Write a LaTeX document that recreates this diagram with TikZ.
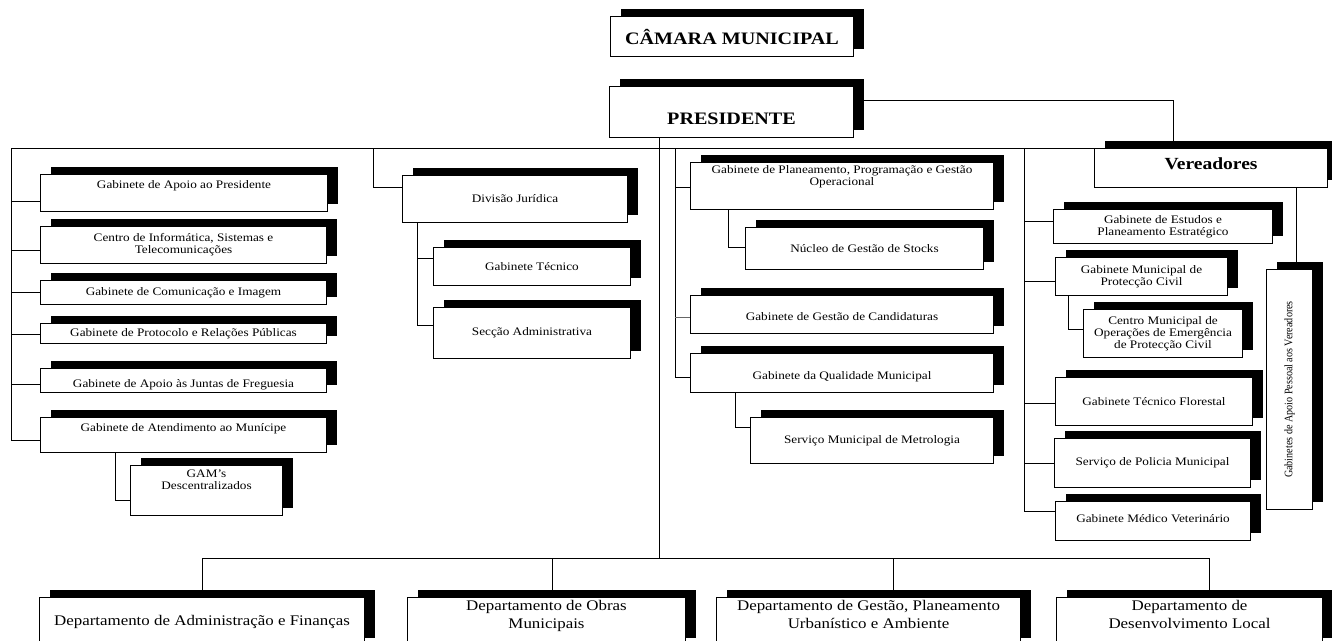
\documentclass[tikz,border=0pt]{standalone}
\usepackage{fontspec}
\usepackage{graphicx}
\setmainfont{Liberation Serif}[FakeStretch=1.15]
\newfontfamily\narrowserif{Liberation Serif}[FakeStretch=0.88]
\usetikzlibrary{shadows,backgrounds,calc}
\begin{document}
\begin{tikzpicture}[x=1pt,y=-1pt,line width=1pt,
  box/.style={draw, fill=white, anchor=north west, inner sep=0pt, align=center,
    font=\fontsize{11.5}{12}\selectfont,
    drop shadow={shadow xshift=10pt, shadow yshift=8pt, fill=black, opacity=1}},
  sz/.style 2 args={minimum width=#1pt, minimum height=#2pt},
  title/.style={box, font=\fontsize{17.5}{20}\selectfont\bfseries},
  dept/.style={box, font=\fontsize{14.7}{18}\selectfont}]

\begin{scope}[on background layer]
  \fill[white] (0,0) rectangle (1332,640);
\end{scope}
\useasboundingbox (0,0) rectangle (1332,640);

% top of the hierarchy
\node[title, sz={243}{40}] (camara) at (610,16) {CÂMARA MUNICIPAL};
\node[title, sz={244}{51}, text height=25pt] (pres) at (609,86) {PRESIDENTE};
\node[title, sz={233}{39}, font=\fontsize{17}{20}\selectfont\bfseries, text depth=9pt] (ver) at (1094,148) {Vereadores};

% first column
\node[box, sz={287}{37}, text depth=16.5pt] (gapres) at (40,174) {Gabinete de Apoio ao Presidente};
\node[box, sz={286}{37}] (cist) at (40,226) {Centro de Informática, Sistemas e\\Telecomunicações};
\node[box, sz={286}{24}] (gci) at (40,280) {Gabinete de Comunicação e Imagem};
\node[box, sz={286}{20}] (gprp) at (40,323) {Gabinete de Protocolo e Relações Públicas};
\node[box, sz={286}{24}, text height=16pt] (gajf) at (40,368) {Gabinete de Apoio às Juntas de Freguesia};
\node[box, sz={286}{35}, text depth=16pt] (gam) at (40,417) {Gabinete de Atendimento ao Munícipe};
\node[box, sz={152}{50}] (gamd) at (130,465) {GAM’s\\Descentralizados\\[10pt]};

% second column
\node[box, sz={225}{47}] (divj) at (402,175) {Divisão Jurídica};
\node[box, sz={197}{38}] (gtec) at (433,247) {Gabinete Técnico};
\node[box, sz={197}{51}] (secadm) at (433,307) {Secção Administrativa};

% third column
\node[box, sz={303}{47}] (gppgo) at (690,162) {Gabinete de Planeamento, Programação e Gestão\\Operacional\\[8pt]};
\node[box, sz={238}{42}] (ngs) at (745,227) {Núcleo de Gestão de Stocks};
\node[box, sz={303}{38}, text height=13pt] (ggc) at (690,295) {Gabinete de Gestão de Candidaturas};
\node[box, sz={303}{39}, text height=16pt] (gqm) at (690,353) {Gabinete da Qualidade Municipal};
\node[box, sz={243}{46}] (smm) at (750,417) {Serviço Municipal de Metrologia};

% fourth column
\node[box, sz={219}{34}] (gepe) at (1053,209) {Gabinete de Estudos e\\Planeamento Estratégico};
\node[box, sz={172}{38}] (gmpc) at (1055,257) {Gabinete Municipal de\\Protecção Civil};
\node[box, sz={159}{48}] (cmoe) at (1083,309) {Centro Municipal de\\Operações de Emergência\\de Protecção Civil};
\node[box, sz={197}{48}] (gtf) at (1055,377) {Gabinete Técnico Florestal};
\node[box, sz={196}{49}] (spm) at (1054,438) {Serviço de Policia Municipal};
\node[box, sz={195}{39}, text depth=6pt] (gmv) at (1055,501) {Gabinete Médico Veterinário};
\node[box, sz={46}{240}, font=\fontsize{11.5}{12}\narrowserif] (gapv) at (1266,269)
  {\rotatebox{90}{Gabinetes de Apoio Pessoal aos Vereadores}};

% departments
\node[dept, sz={325}{48}] (daf) at (39,597) {Departamento de Administração e Finanças};
\node[dept, sz={278}{48}] (dom) at (407,597) {Departamento de Obras\\Municipais\\[-4pt]};
\node[dept, sz={304}{48}] (dgpu) at (716,597) {Departamento de Gestão, Planeamento\\Urbanístico e Ambiente\\[-4pt]};
\node[dept, sz={266}{48}] (ddl) at (1056,597) {Departamento de\\Desenvolvimento Local\\[-4pt]};

\begin{scope}[on background layer]
  % links from the president
  \draw (pres.east |- 0,100) -| (ver.north -| 1173,0);
  \draw (pres.south -| 659,0) -- (659,558);
  \draw (11,148) -- (ver.north west);

  % first column
  \draw (11,148) -- (11,440) -- (gam.west |- 0,440);
  \draw (11,201) -- (gapres.west |- 0,201);
  \draw (11,250) -- (cist.west |- 0,250);
  \draw (11,292) -- (gci.west |- 0,292);
  \draw (11,334) -- (gprp.west |- 0,334);
  \draw (11,384) -- (gajf.west |- 0,384);
  \draw (gam.south -| 115,0) |- (gamd.west |- 0,500);

  % second column
  \draw (373,148) |- (divj.west |- 0,187);
  \draw (divj.south -| 417,0) |- (secadm.west |- 0,325);
  \draw (417,258) -- (gtec.west |- 0,258);

  % third column
  \draw (675,148) -- (675,377) -- (gqm.west |- 0,377);
  \draw (675,187) -- (gppgo.west |- 0,187);
  \draw[line width=0.7pt, black!60] (675,317) -- (ggc.west |- 0,317);
  \draw (gppgo.south -| 728,0) |- (ngs.west |- 0,247);
  \draw (gqm.south -| 735,0) |- (smm.west |- 0,427);

  % fourth column
  \draw (1024,148) -- (1024,511) -- (gmv.west |- 0,511);
  \draw (1024,221) -- (gepe.west |- 0,221);
  \draw (1024,281) -- (gmpc.west |- 0,281);
  \draw (1024,403) -- (gtf.west |- 0,403);
  \draw (1024,463) -- (spm.west |- 0,463);
  \draw (gmpc.south -| 1068,0) |- (cmoe.west |- 0,329);
  \draw (ver.south -| 1296,0) -- (gapv.north -| 1296,0);

  % departments
  \draw (202,558) -- (1209,558);
  \draw (daf.north |- 0,558) -- (daf.north);
  \draw (552,558) -- (dom.north -| 552,0);
  \draw (893,558) -- (dgpu.north -| 893,0);
  \draw (1209,558) -- (ddl.north -| 1209,0);
\end{scope}
\end{tikzpicture}
\end{document}
